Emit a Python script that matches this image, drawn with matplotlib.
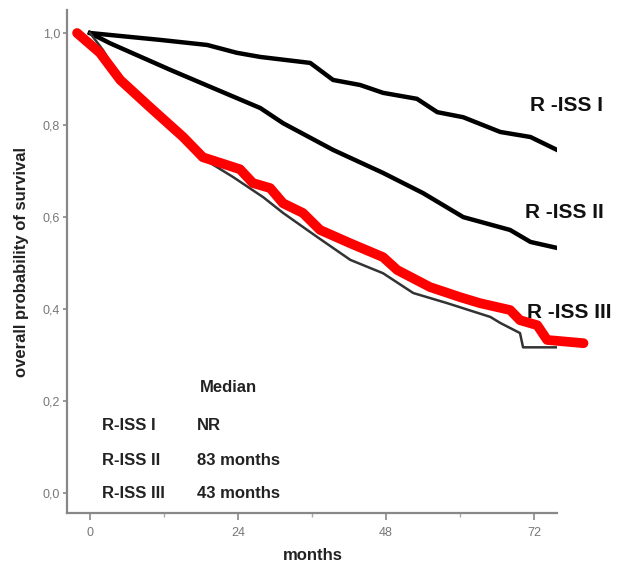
import numpy as np
import matplotlib
matplotlib.use('Agg')
import matplotlib.pyplot as plt

plt.rcParams['font.family'] = ['Liberation Sans', 'DejaVu Sans']

# Kaplan-Meier curves (months, survival)
riss1_t = [0, 11.4, 19.0, 23.8, 27.6, 35.7, 39.4, 43.8, 47.5, 53.0, 56.3, 60.5, 66.5, 71.4, 75.7]
riss1_s = [1.0, 0.985, 0.974, 0.957, 0.948, 0.935, 0.898, 0.887, 0.870, 0.857, 0.828, 0.817, 0.785, 0.774, 0.746]

riss2_t = [0, 3.2, 13.0, 19.5, 27.6, 31.3, 39.4, 47.5, 54.0, 60.5, 68.1, 71.4, 75.7]
riss2_s = [1.0, 0.978, 0.920, 0.883, 0.837, 0.804, 0.746, 0.696, 0.652, 0.600, 0.572, 0.546, 0.533]

riss3_t = [0, 2.1, 3.6, 5.7, 9.7, 15.1, 18.7, 23.2, 28.1, 31.3, 36.8, 42.2, 47.5, 52.4, 57.9, 64.9, 66.5, 69.7, 70.2, 75.7]
riss3_s = [1.0, 0.963, 0.930, 0.880, 0.833, 0.767, 0.724, 0.687, 0.643, 0.609, 0.557, 0.507, 0.478, 0.435, 0.413, 0.383, 0.370, 0.348, 0.317, 0.317]

# red overlay (shifted, thick)
red_t = [-2.1, 1.6, 4.9, 9.7, 15.1, 18.3, 24.3, 26.4, 29.2, 31.3, 34.5, 37.3, 42.2, 47.5, 49.8, 55.1, 60.0, 63.2, 68.1, 69.7, 72.5, 74.1, 80.0]
red_s = [1.0, 0.957, 0.898, 0.839, 0.774, 0.730, 0.704, 0.674, 0.663, 0.630, 0.609, 0.572, 0.543, 0.513, 0.485, 0.448, 0.426, 0.413, 0.398, 0.376, 0.365, 0.333, 0.326]

yticks = [0.0, 0.2, 0.4, 0.6, 0.8, 1.0]
ytick_labels = ['0,0', '0,2', '0,4', '0,6', '0,8', '1,0']
xticks = [0, 24, 48, 72]

curve_labels = ['R -ISS I', 'R -ISS II', 'R -ISS III']
table_groups = ['R-ISS I', 'R-ISS II', 'R-ISS III']
table_medians = ['NR', '83 months', '43 months']

W, H = 620, 566
fig = plt.figure(figsize=(W / 100, H / 100), dpi=100)
ax = fig.add_axes([67 / W, 1 - 513 / H, 490 / W, 503 / H])

ax.plot(riss1_t, riss1_s, color='black', lw=3.2, solid_joinstyle='round')
ax.plot(riss2_t, riss2_s, color='black', lw=3.2, solid_joinstyle='round')
ax.plot(riss3_t, riss3_s, color='#333333', lw=1.8)
ax.plot(red_t, red_s, color='#ff0000', lw=7, solid_capstyle='round',
        solid_joinstyle='round', clip_on=False)

ax.set_xlim(-3.73, 75.7)
ax.set_ylim(-0.043, 1.05)

for s in ['top', 'right']:
    ax.spines[s].set_visible(False)
for s in ['left', 'bottom']:
    ax.spines[s].set_color('#888888')
    ax.spines[s].set_linewidth(1.6)

ax.set_yticks(yticks)
ax.set_yticklabels(ytick_labels)
ax.set_xticks(xticks)
ax.set_xticks([12, 36, 60], minor=True)
ax.tick_params(axis='y', colors='#888888', labelcolor='#777777', labelsize=9,
               length=3, width=1.2, direction='out', pad=2)
ax.tick_params(axis='x', colors='#888888', labelcolor='#777777', labelsize=9,
               length=5, width=1.2, direction='out', pad=5)
ax.tick_params(axis='x', which='minor', colors='#aaaaaa', length=3, width=1)

# curve labels
label_pos = [(71.3, 0.843), (70.5, 0.611), (70.9, 0.393)]
for txt, (x, y) in zip(curve_labels, label_pos):
    ax.text(x, y, txt, fontsize=15, fontweight='bold', va='center', ha='left',
            color='#111111', clip_on=False)

# median table
ax.text(17.8, 0.230, 'Median', fontsize=12, fontweight='bold', va='center', color='#222222')
table_y = [0.148, 0.072, 0.0]
for g, m, y in zip(table_groups, table_medians, table_y):
    ax.text(1.9, y, g, fontsize=12, fontweight='bold', va='center', color='#222222')
    ax.text(17.4, y, m, fontsize=12, fontweight='bold', va='center', color='#222222')

fig.text(22 / W, 1 - 262 / H, 'overall probability of survival', rotation=90,
         fontsize=12, fontweight='bold', ha='center', va='center', color='#222222')
fig.text(313 / W, 1 - 556 / H, 'months', fontsize=12, fontweight='bold',
         ha='center', va='center', color='#222222')

fig.savefig('out.png', dpi=100)
